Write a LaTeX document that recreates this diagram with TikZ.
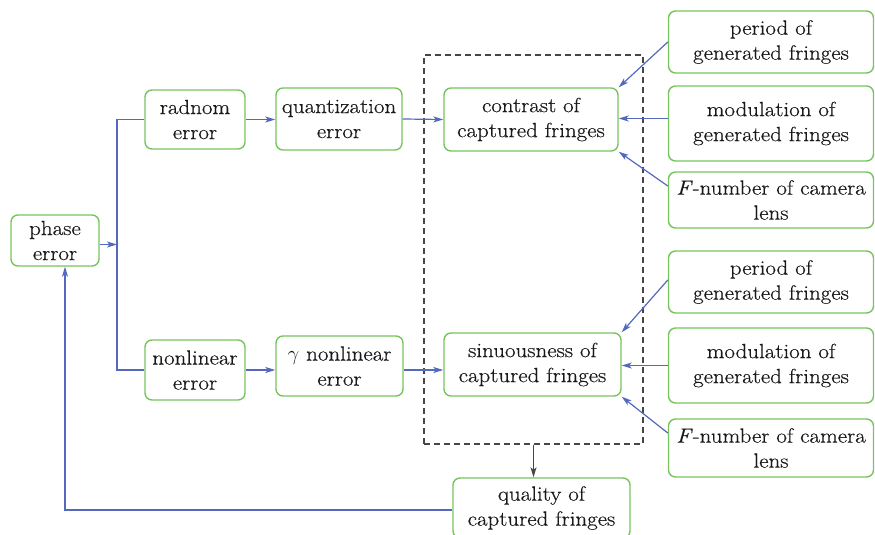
\documentclass[tikz,border=0pt]{standalone}
\usepackage{amsmath,amssymb}
\usepackage{fontspec}
\setmainfont{Latin Modern Roman}[FakeStretch=1.12,FakeBold=0.4]
\usepackage{xcolor}
\usepackage{tikz}
\usetikzlibrary{arrows.meta,positioning}
\definecolor{boxgreen}{RGB}{118,196,92}
\definecolor{linkblue}{RGB}{84,104,190}
\definecolor{dashgray}{RGB}{70,70,70}

\begin{document}
\begin{tikzpicture}[x=1pt,y=-1pt,
  box/.style={draw=boxgreen, line width=1.4pt, rounded corners=7pt, align=center, inner sep=1pt, text=black!90, font=\fontsize{20.5}{25}\selectfont},
  link/.style={draw=linkblue, line width=1.2pt, -{Stealth[length=10pt,width=6pt,inset=2.5pt]}},
  dashbox/.style={draw=dashgray, line width=1.3pt, dash pattern=on 6pt off 4pt}]
\useasboundingbox (0,0) rectangle (875,535);
\node[box, minimum width=88, minimum height=51] (phase) at (55,240.5) {phase\\error};
\node[box, minimum width=100, minimum height=59] (radnom) at (195,119.5) {radnom\\error};
\node[box, minimum width=126, minimum height=62] (quant) at (339,119) {quantization\\error};
\node[box, minimum width=174, minimum height=63] (contrast) at (531,119.5) {contrast of\\captured fringes};
\node[box, minimum width=100, minimum height=60] (nonlin) at (195,370) {nonlinear\\error};
\node[box, minimum width=127, minimum height=60] (gamma) at (339.5,366) {$\gamma$ nonlinear\\error};
\node[box, minimum width=177, minimum height=63] (sinus) at (532.5,364.5) {sinuousness of\\captured fringes};
\node[dashbox, minimum width=219, minimum height=389] (group) at (533.5,249.5) {};
\node[box, minimum width=205, minimum height=62] (p1) at (771,42) {period of\\generated fringes};
\node[box, minimum width=205, minimum height=75] (m1) at (771,123.5) {modulation of\\generated fringes};
\node[box, minimum width=205, minimum height=56] (f1) at (771,200) {\textit{F}-number of camera\\lens};
\node[box, minimum width=205, minimum height=62] (p2) at (771,282) {period of\\generated fringes};
\node[box, minimum width=205, minimum height=75] (m2) at (771,365.5) {modulation of\\generated fringes};
\node[box, minimum width=205, minimum height=58] (f2) at (771,448) {\textit{F}-number of camera\\lens};
\node[box, minimum width=177, minimum height=60] (quality) at (541.5,508) {quality of\\captured fringes};
\coordinate (split) at (117,244.5);
\draw[link] ([yshift=-4pt]phase.east) -- (split);
\draw[link, -] (radnom.west) -| (split) |- (nonlin.west);
\draw[link] (radnom.east) -- (radnom.east -| quant.west);
\draw[link] (quant.east) -- (contrast.west);
\draw[link] (nonlin.east) -- (nonlin.east -| gamma.west);
\draw[link] (nonlin.east -| gamma.east) -- (nonlin.east -| sinus.west);
\draw[link] (p1.west) -- (contrast.north east);
\draw[link] ([yshift=5pt]m1.west) -- ([yshift=5pt]m1.west -| contrast.east);
\draw[link] ([yshift=14pt]f1.west) -- (contrast.south east);
\draw[link] ([yshift=2pt]p2.west) -- (sinus.north east);
\draw[link] (m2.west) -- (m2.west -| sinus.east);
\draw[link] ([yshift=15pt]f2.west) -- (sinus.south east);
\draw[dashgray, line width=1.2pt, -{Stealth[length=10pt,width=6pt,inset=2.5pt]}] (group.south) -- (group.south |- quality.north);
\draw[link] ([yshift=-2pt]quality.west) -| ([xshift=10pt]phase.south);
\end{tikzpicture}
\end{document}
